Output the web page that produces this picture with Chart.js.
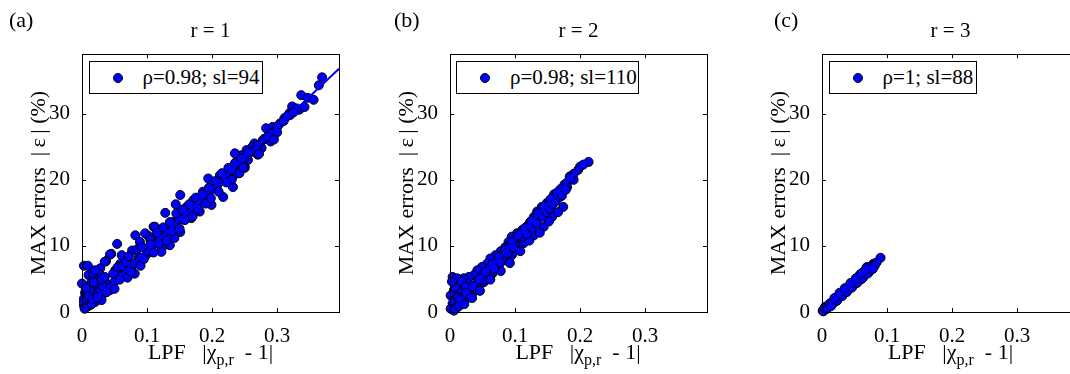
<!DOCTYPE html>
<html>
<head>
<meta charset="utf-8">
<script src="https://cdn.jsdelivr.net/npm/chart.js@4.4.1/dist/chart.umd.min.js"></script>
<style>
  body { margin: 0; width: 1070px; height: 374px; overflow: hidden; background: #fff; position: relative;
         font-family: "Liberation Serif", "Times New Roman", serif; color: #000; }
  canvas { position: absolute; top: 0; }
  .tag { position: absolute; top: 9px; font-size: 22px; line-height: 22px; }
  .xlab { position: absolute; top: 341px; width: 260px; text-align: center; font-size: 22px; line-height: 22px; white-space: pre; }
  .xlab sub { font-size: 16px; vertical-align: -6px; line-height: 0; }
  .leg { position: absolute; top: 61px; height: 33px; border: 1px solid #000; box-sizing: border-box; background: #fff; }
  .leg .dot { position: absolute; left: 23px; top: 11px; width: 10px; height: 10px; border-radius: 50%;
              background: #0000ff; border: 1px solid #000; box-sizing: border-box; }
  .leg .txt { position: absolute; left: 53px; top: 5px; font-size: 21px; line-height: 21px; white-space: pre; }
</style>
</head>
<body>
<script>
// ---- data ----
const panelTags = ['(a)', '(b)', '(c)'];
const panelTitles = ['r = 1', 'r = 2', 'r = 3'];
const legendLabels = ['ρ=0.98; sl=94', 'ρ=0.98; sl=110', 'ρ=1; sl=88'];
const legendWidths = [174, 183, 148];
const xTickLabels = ['0', '0.1', '0.2', '0.3'];
const yTickLabels = ['0', '10', '20', '30'];

// panel (a), r = 1
const rOneX = [0.369,0.364,0.337,0.347,0.323,0.334,0.319,0.311,0.304,0.283,0.293,0.298,0.288,0.278,0.265,0.262,0.253,0.276,0.245,0.235,
  0.237,0.255,0.250,0.240,0.232,0.242,0.227,0.212,0.207,0.194,0.186,0.199,0.217,0.232,0.171,0.161,0.181,0.151,0.144,0.128,
  0.156,0.168,0.140,0.151,0.135,0.110,0.122,0.115,0.128,0.132,0.142,0.112,0.102,0.097,0.082,0.089,0.105,0.123,0.122,0.096,
  0.089,0.076,0.066,0.081,0.056,0.100,0.087,0.077,0.066,0.059,0.054,0.045,0.043,0.061,0.037,0.035,0.051,0.028,0.003,0.009,
  0.010,0.018,0.026,0.017,0.020,0.000,0.013,0.023,0.036,0.025,0.045,0.040,0.043,0.005,0.015,0.003,0.010,0.020,0.033,0.003,
  0.005,0.015,0.007,0.003,
  0.02,0.03,0.04,0.05,0.06,0.07,0.08,0.09,0.10,0.11,0.12,0.13,0.14,0.15,0.16,0.17,0.18,0.19,0.20,0.21,
  0.22,0.23,0.24,0.25,0.26,0.27,0.28,0.29,0.30,0.31,0.32,0.33,
  0.03,0.05,0.07,0.09,0.11,0.13,0.15,0.17,0.19,0.21,0.23,0.25,0.27,0.29,
  0.008,0.012,0.015,0.018,0.022,0.028,0.032,0.012,0.018,0.006,0.030,0.035,0.048,0.055,0.062,0.068,0.072,0.085,0.092,0.105,
  0.115,0.125,0.135,0.145,0.155,0.165,0.175,0.185,0.195,0.205,0.215,0.225,0.235,0.245,0.255,0.268,0.285,0.300,0.315,0.325,
  0.004,0.010,0.016,0.024,0.038,0.058,0.075,0.095,0.118,0.138,0.158,0.178,0.198,0.222,0.248,0.272,0.295,0.342,0.356];
const rOneY = [35.5,34.3,32.8,32.4,31.1,30.6,30.1,29.3,28.5,27.8,28.0,27.5,26.8,26.0,25.5,25.0,24.5,24.8,23.7,24.0,
  22.7,23.0,22.0,21.0,20.5,21.0,19.7,20.7,18.9,20.2,18.2,16.2,17.4,18.9,16.9,15.9,15.2,17.7,16.3,15.0,
  14.4,14.2,13.6,12.1,10.1,12.9,12.4,11.1,10.9,12.4,11.2,12.9,11.5,11.9,11.6,10.6,10.9,9.8,9.1,8.3,
  7.6,6.8,6.3,5.8,5.1,8.8,8.2,9.3,7.8,7.3,10.3,8.8,8.7,8.6,7.7,7.6,6.3,6.6,7.0,7.0,
  5.6,5.3,5.8,5.8,6.3,4.3,4.3,3.8,4.5,4.8,3.8,3.3,3.3,2.8,2.3,2.0,1.5,1.5,2.8,1.0,
  3.0,3.5,2.0,1.5,
  2.0,2.5,3.6,4.6,5.4,6.4,7.3,8.2,9.2,10.2,11.0,12.0,13.0,14.0,15.0,15.8,16.8,17.6,18.6,19.5,
  20.4,21.5,22.3,23.3,24.2,25.1,26.2,27.0,28.0,28.9,29.8,30.8,
  1.8,3.5,5.2,7.0,9.0,10.8,12.6,14.5,16.4,18.2,20.0,21.8,23.8,25.8,
  0.8,1.0,1.2,2.6,2.9,3.3,3.9,3.2,4.5,3.6,4.9,5.3,5.8,6.8,6.9,7.5,8.4,9.5,9.8,10.2,
  12.0,12.8,13.6,14.9,15.5,16.3,17.3,17.8,18.8,19.8,21.0,21.8,22.5,23.2,24.1,24.5,26.5,27.2,29.6,30.2,
  0.5,2.4,1.9,2.2,3.0,4.9,6.1,8.0,10.3,12.2,13.9,15.6,17.2,19.6,21.9,23.9,26.1,31.0,32.1];

// panel (b), r = 2
const rTwoX = [0.213,0.197,0.190,0.184,0.176,0.168,0.160,0.169,0.154,0.149,0.141,0.134,0.139,0.129,0.123,0.118,0.111,0.103,0.095,0.108,
  0.090,0.085,0.078,0.095,0.070,0.062,0.057,0.049,0.042,0.065,0.037,0.029,0.021,0.004,0.011,0.027,0.016,0.006,0.016,0.032,
  0.001,0.009,0.004,0.001,0.011,0.021,0.042,0.052,0.057,0.072,0.083,0.098,0.113,0.129,0.144,0.157,0.174,0.200,
  0.02,0.03,0.04,0.05,0.06,0.07,0.08,0.09,0.10,0.11,0.12,0.13,0.14,0.15,0.16,0.17,0.18,0.205,
  0.015,0.025,0.035,0.045,0.055,0.065,0.075,0.085,0.105,0.012,0.008,0.003,0.018,0.024,
  0.010,0.020,0.030,0.040,0.050,0.060,0.070,0.080,0.090,0.100,0.110,0.120,0.130,0.140,0.150,0.160,0.170,0.180,0.190,
  0.015,0.025,0.035,0.045,0.055,0.065,0.075,0.085,0.095,0.105,0.115,0.125,0.135,0.145,0.155,0.165,0.185,
  0.006,0.014,0.022,0.034,0.046,0.062,0.078,0.092,0.108,0.122,0.138,0.152,0.166,
  0.142,0.148,0.153,0.158,0.163,0.168,0.172,0.178,0.118,0.126,0.133,0.088,0.097,0.068,0.077];
const rTwoY = [22.7,21.5,20.9,20.5,19.3,18.0,17.8,17.4,16.9,16.5,15.9,15.2,14.6,14.4,13.6,12.9,12.4,11.9,11.4,11.1,
  10.6,9.8,9.2,8.6,8.6,8.1,7.3,6.8,6.3,5.8,5.6,5.3,5.1,5.3,5.1,4.3,4.0,3.3,3.0,3.3,
  2.5,1.8,1.3,0.5,0.8,1.8,3.8,4.5,5.3,6.8,7.8,9.1,10.4,11.6,12.9,14.4,15.9,22.0,
  2.4,3.2,4.3,5.5,6.6,7.6,8.7,9.8,10.9,12.0,13.1,14.2,15.3,16.4,17.4,18.6,19.6,22.3,
  1.3,2.0,2.9,4.0,5.0,6.0,7.0,8.2,9.9,2.2,3.8,4.6,4.6,3.8,
  0.6,1.6,2.6,3.7,4.8,5.8,6.9,8.0,9.1,10.2,11.3,12.4,13.5,14.6,15.7,16.8,17.9,18.9,20.0,
  1.8,2.9,3.9,5.0,6.1,7.2,8.3,9.4,10.5,11.6,12.7,13.8,14.9,16.0,17.1,18.1,20.3,
  0.2,0.9,1.2,2.1,3.2,4.9,6.2,7.4,9.2,10.8,12.0,13.7,15.1,
  14.4,15.1,15.6,16.3,16.8,17.4,17.6,18.5,11.8,12.7,13.4,8.9,9.8,6.6,7.5];

// panel (c), r = 3
const rThreeX = [0.090,0.079,0.069,0.074,0.064,0.056,0.048,0.041,0.033,0.025,0.018,0.010,0.003,0.005,0.077,0.071,0.066,0.060,0.061,0.053,
  0.051,0.045,0.043,0.037,0.036,0.030,0.028,0.022,0.020,0.015,0.013,0.008,0.006,0.001,0.002,0.084,0.068,0.058,0.040,0.026,
  0.004,0.009,0.012,0.017,0.021,0.024,0.029,0.032,0.035,0.039,0.042,0.047,0.050,0.055,0.059,0.063,0.067,0.072,0.076,0.081,
  0.014,0.023,0.031,0.038,0.046,0.054,0.062,0.070,0.078,0.019,0.027,0.035,0.044,0.052,0.060,0.068];
const rThreeY = [8.2,7.3,6.8,6.6,6.1,5.3,4.5,3.8,3.0,2.3,1.5,0.9,0.4,0.8,7.0,6.2,5.7,5.4,5.0,4.8,
  4.3,4.1,3.6,3.4,3.0,2.8,2.3,2.0,1.6,1.4,1.0,0.8,0.4,0.2,0.1,7.5,6.4,5.6,3.7,2.5,
  0.6,0.6,1.3,1.3,2.1,1.9,2.8,2.6,3.3,3.2,4.0,3.9,4.6,4.6,5.4,5.2,6.1,6.0,6.9,7.0,
  0.9,1.7,2.4,3.0,3.7,4.4,5.1,5.8,6.5,2.1,2.9,3.6,4.4,5.1,5.8,6.6];

// fitted lines (end points)
const fitX = [[0, 0.395], [0, 0.215], [0, 0.09]];
const fitY = [[0, 36.8], [0, 23.4], [0, 8.0]];

const seriesX = [rOneX, rTwoX, rThreeX];
const seriesY = [rOneY, rTwoY, rThreeY];

// ---- drawing ----
const plotLefts = [82, 449.5, 822];
const tagLefts = [9, 394, 774];
const X_MAX = 0.395, Y_MAX = 39;

const frameTicks = {
  id: 'frameTicks',
  afterDatasetsDraw(chart) {
    const { ctx, chartArea: a, scales: { x, y } } = chart;
    ctx.save();
    ctx.strokeStyle = '#000';
    ctx.lineWidth = 1;
    ctx.strokeRect(Math.round(a.left) + 0.5, Math.round(a.top) + 0.5, Math.round(a.right - a.left), Math.round(a.bottom - a.top));
    ctx.beginPath();
    x.ticks.forEach(t => {
      const px = Math.round(x.getPixelForValue(t.value)) + 0.5;
      ctx.moveTo(px, a.bottom); ctx.lineTo(px, a.bottom - 4);
      ctx.moveTo(px, a.top); ctx.lineTo(px, a.top + 4);
    });
    y.ticks.forEach(t => {
      const py = Math.round(y.getPixelForValue(t.value)) + 0.5;
      ctx.moveTo(a.left, py); ctx.lineTo(a.left + 4, py);
      ctx.moveTo(a.right, py); ctx.lineTo(a.right - 4, py);
    });
    ctx.stroke();
    ctx.restore();
  }
};

const FONT = "'Liberation Serif', 'Times New Roman', serif";

panelTags.forEach((tag, i) => {
  const canvasLeft = Math.round(plotLefts[i] - 82);
  const cv = document.createElement('canvas');
  cv.width = 350; cv.height = 374;
  cv.style.left = canvasLeft + 'px';
  document.body.appendChild(cv);

  const points = seriesX[i].map((x, k) => ({ x: x, y: seriesY[i][k] }));
  const line = fitX[i].map((x, k) => ({ x: x, y: fitY[i][k] }));

  new Chart(cv.getContext('2d'), {
    type: 'scatter',
    data: {
      datasets: [
        { data: line, showLine: true, borderColor: '#0000ff', borderWidth: 2, pointRadius: 0, clip: false },
        { data: points, backgroundColor: '#0000ff', borderColor: '#000', borderWidth: 1, pointRadius: 4.5, clip: false }
      ]
    },
    options: {
      responsive: false,
      devicePixelRatio: 1,
      animation: false,
      layout: { padding: { left: 0, right: 11, top: 19, bottom: 0 } },
      plugins: {
        legend: { display: false },
        tooltip: { enabled: false },
        title: {
          display: true, text: panelTitles[i], fullSize: false, color: '#000',
          font: { family: FONT, size: 21, weight: 'normal' }, padding: { top: 0, bottom: 10 }
        }
      },
      scales: {
        x: {
          type: 'linear', min: 0, max: X_MAX,
          grid: { display: false }, border: { display: false },
          afterFit: s => { s.height = 62; },
          ticks: {
            stepSize: 0.1, includeBounds: false, autoSkip: false, maxRotation: 0, padding: 4, color: '#000',
            font: { family: FONT, size: 21 },
            callback: (v, k) => xTickLabels[k]
          }
        },
        y: {
          type: 'linear', min: 0, max: Y_MAX,
          grid: { display: false }, border: { display: false },
          afterFit: s => { s.width = 82; },
          title: {
            display: true, text: 'MAX errors  |\u2009ε\u2009| (%)', color: '#000',
            font: { family: FONT, size: 22 }, padding: { top: 26, bottom: 0 }
          },
          ticks: {
            stepSize: 10, includeBounds: false, autoSkip: false, padding: 4, color: '#000',
            font: { family: FONT, size: 21 },
            callback: (v, k) => yTickLabels[k]
          }
        }
      }
    },
    plugins: [frameTicks]
  });

  const t = document.createElement('div');
  t.className = 'tag';
  t.textContent = tag;
  t.style.left = tagLefts[i] + 'px';
  document.body.appendChild(t);

  const xl = document.createElement('div');
  xl.className = 'xlab';
  xl.innerHTML = 'LPF   |χ<sub>p,r</sub>  - 1|';
  xl.style.left = (plotLefts[i] + 128.5 - 130) + 'px';
  document.body.appendChild(xl);

  const lg = document.createElement('div');
  lg.className = 'leg';
  lg.style.left = (plotLefts[i] + 6.5) + 'px';
  lg.style.width = legendWidths[i] + 'px';
  lg.innerHTML = '<span class="dot"></span><span class="txt"></span>';
  lg.querySelector('.txt').textContent = legendLabels[i];
  document.body.appendChild(lg);
});
</script>
</body>
</html>
